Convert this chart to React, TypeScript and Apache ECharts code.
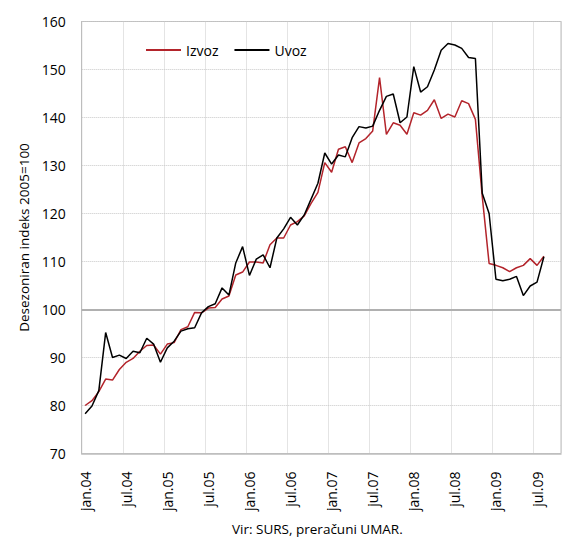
import React, { useEffect, useRef } from "react";
import * as echarts from "echarts";

const monthNames = ["jan", "feb", "mar", "apr", "maj", "jun", "jul", "avg", "sep", "okt", "nov", "dec"];
const years = ["04", "05", "06", "07", "08", "09"];
const lastMonthIndex2009 = 9; // categories run to okt.09

const izvoz = [
  80.0, 81.0, 82.9, 85.5, 85.3, 87.5, 89.0, 89.8, 91.3, 92.5, 92.6, 90.7,
  92.8, 93.1, 95.8, 96.4, 99.4, 99.3, 100.3, 100.4, 102.2, 102.8, 107.2, 107.8,
  109.9, 109.9, 109.7, 113.5, 114.9, 114.9, 117.6, 118.3, 119.5, 122.1, 124.4, 130.6,
  128.6, 133.4, 133.9, 130.6, 134.7, 135.6, 137.2, 148.3, 136.5, 138.9, 138.4, 136.5,
  141.0, 140.5, 141.5, 143.7, 139.8, 140.7, 140.1, 143.5, 142.9, 139.6, 123.5, 109.6,
  109.2, 108.7, 107.9, 108.7, 109.2, 110.6, 109.2, 111.1,
];

const uvoz = [
  78.3, 79.9, 83.1, 95.2, 90.0, 90.5, 89.8, 91.3, 91.0, 94.0, 92.8, 89.0,
  92.0, 93.4, 95.5, 96.0, 96.2, 99.3, 100.6, 101.2, 104.5, 103.0, 109.7, 113.1,
  107.1, 110.5, 111.4, 108.7, 114.9, 116.8, 119.2, 117.6, 119.7, 123.0, 126.3, 132.6,
  130.3, 132.2, 131.8, 135.8, 138.1, 137.8, 138.2, 141.5, 144.4, 144.9, 138.9, 140.1,
  150.6, 145.3, 146.4, 149.9, 154.0, 155.4, 155.1, 154.4, 152.5, 152.3, 124.2, 120.0,
  106.3, 106.0, 106.3, 106.9, 102.9, 104.9, 105.7, 111.0,
];

const yMin = 70;
const yMax = 160;
const yStep = 10;
const refLine = 100;
const gridMonthStep = 6;

const seriesNames = ["Izvoz", "Uvoz"];
const seriesColors = ["#b3242b", "#000000"];
const yAxisTitle = "Desezoniran indeks 2005=100";
const sourceNote = "Vir: SURS, preračuni UMAR.";

const categories: string[] = [];
years.forEach((y, yi) => {
  monthNames.forEach((m, mi) => {
    if (yi === years.length - 1 && mi > lastMonthIndex2009) return;
    categories.push(`${m}.${y}`);
  });
});

const FONT = "'Open Sans', sans-serif";

export default function App() {
  const ref = useRef<HTMLDivElement>(null);
  useEffect(() => {
    document.body.style.margin = "0";
    if (!ref.current) return;
    const chart = echarts.init(ref.current, null, { renderer: "svg" });
    chart.setOption({
      animation: false,
      backgroundColor: "#ffffff",
      textStyle: { fontFamily: FONT },
      grid: {
        left: 81.7,
        right: 2,
        top: 21.5,
        bottom: 88.5,
        show: true,
        borderColor: "#bdbdbd",
        borderWidth: 1,
      },
      legend: {
        left: 141,
        top: 38,
        itemWidth: 35,
        itemHeight: 2,
        itemGap: 16,
        textStyle: { fontFamily: FONT, fontSize: 14, color: "#000" },
        data: seriesNames.map((n) => ({ name: n, icon: "rect" })),
      },
      xAxis: [
        {
          type: "category",
          data: categories,
          boundaryGap: true,
          axisLine: { show: true, lineStyle: { color: "#bdbdbd", width: 1.5 } },
          axisTick: { show: false },
          axisLabel: {
            interval: gridMonthStep - 1,
            rotate: 90,
            margin: 18,
            fontSize: 14,
            color: "#000",
            fontFamily: FONT,
          },
          splitLine: { show: false },
          z: 5,
        },
        {
          type: "value",
          min: 0,
          max: categories.length,
          interval: gridMonthStep,
          position: "bottom",
          axisLine: { show: false },
          axisTick: { show: false },
          axisLabel: { show: false },
          splitLine: {
            show: true,
            lineStyle: { type: "dotted", color: "#c8c8c8", width: 1 },
          },
        },
      ],
      yAxis: {
        type: "value",
        min: yMin,
        max: yMax,
        interval: yStep,
        name: yAxisTitle,
        nameLocation: "middle",
        nameRotate: 90,
        nameGap: 47,
        nameTextStyle: { fontFamily: FONT, fontSize: 13.5, color: "#000" },
        axisLine: { show: true, lineStyle: { color: "#bdbdbd", width: 1 } },
        axisTick: { show: false },
        axisLabel: { fontSize: 14, color: "#000", margin: 16, fontFamily: FONT },
        splitLine: { show: true, lineStyle: { type: "dotted", color: "#c8c8c8", width: 1 } },
      },
      series: [
        {
          name: seriesNames[0],
          type: "line",
          xAxisIndex: 0,
          data: izvoz,
          symbol: "none",
          lineStyle: { color: seriesColors[0], width: 1.5 },
          itemStyle: { color: seriesColors[0] },
          z: 3,
          markLine: {
            silent: true,
            symbol: "none",
            label: { show: false },
            lineStyle: { color: "#b0b0b0", width: 2, type: "solid" },
            data: [{ yAxis: refLine }],
            z: 1,
          },
        },
        {
          name: seriesNames[1],
          type: "line",
          xAxisIndex: 0,
          data: uvoz,
          symbol: "none",
          lineStyle: { color: seriesColors[1], width: 1.5 },
          itemStyle: { color: seriesColors[1] },
          z: 4,
        },
      ],
      graphic: [
        {
          type: "text",
          left: 232,
          top: 522,
          style: {
            text: sourceNote,
            fontFamily: FONT,
            fontSize: 13.5,
            fill: "#000",
          },
        },
      ],
    });
    return () => chart.dispose();
  }, []);
  return <div ref={ref} style={{ width: 563, height: 542 }} />;
}
